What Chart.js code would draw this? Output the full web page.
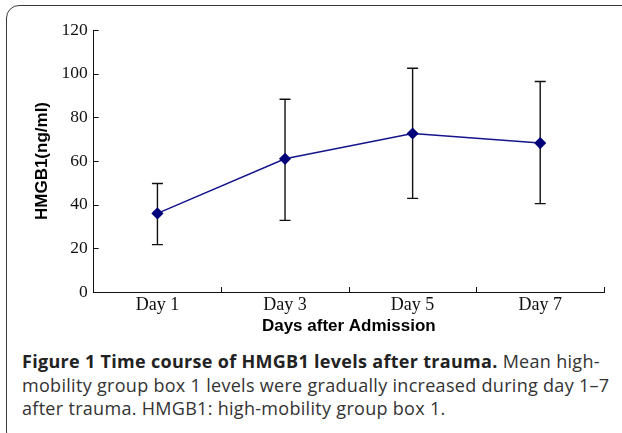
<!DOCTYPE html>
<html>
<head>
<meta charset="utf-8">
<script src="https://cdn.jsdelivr.net/npm/chart.js@4/dist/chart.umd.min.js"></script>
<style>
  html, body { margin: 0; padding: 0; background: #fff; }
  #wrap { position: relative; width: 622px; height: 433px; overflow: hidden; }
  #frame {
    position: absolute; left: 6px; top: 5px; width: 640px; height: 440px;
    border: 1.5px solid #3a3a3a; border-radius: 13px; box-sizing: border-box;
  }
  #chart3 { position: absolute; left: 0; top: 0; }
  #caption {
    position: absolute; left: 22px; top: 350px;
    font-family: "Open Sans", sans-serif; font-size: 18px; line-height: 23.5px;
    letter-spacing: 0.3px; color: #333; white-space: nowrap;
  }
  #caption b { color: #222; }
</style>
</head>
<body>
<div id="wrap">
  <div id="frame"></div>
  <canvas id="chart3" width="622" height="346"></canvas>
  <div id="caption">
    <div><b>Figure 1 Time course of HMGB1 levels after trauma.</b> Mean high-</div>
    <div>mobility group box 1 levels were gradually increased during day 1–7</div>
    <div>after trauma. HMGB1: high-mobility group box 1.</div>
  </div>
</div>
<script>
/* -------- donnees -------- */
const jours = ["Day 1", "Day 3", "Day 5", "Day 7"];
const moyennes = [36, 61, 72.6, 68.2];
const hautErreur = [49.7, 88.3, 102.5, 96.4];
const basErreur = [21.7, 32.8, 42.9, 40.5];
const ticksY = [0, 20, 40, 60, 80, 100, 120];

const ctx3 = chart3.getContext("2d");

/* barres d'erreur, dessinees avant la ligne */
const errorBars = {
  id: "errorBars",
  beforeDatasetsDraw(chart) {
    const c = chart.ctx;
    const x = chart.scales.x, y = chart.scales.y;
    c.save();
    c.strokeStyle = "#111";
    c.lineWidth = 1.4;
    for (let i = 0; i < moyennes.length; i++) {
      const px = x.getPixelForValue(i);
      const top = y.getPixelForValue(hautErreur[i]);
      const bot = y.getPixelForValue(basErreur[i]);
      c.beginPath();
      c.moveTo(px, top); c.lineTo(px, bot);
      c.moveTo(px - 5.5, top); c.lineTo(px + 5.5, top);
      c.moveTo(px - 5.5, bot); c.lineTo(px + 5.5, bot);
      c.stroke();
    }
    c.restore();
  }
};

/* petits traits vers l'interieur sur les axes */
const innerTicks = {
  id: "innerTicks",
  afterDraw(chart) {
    const c = chart.ctx;
    const x = chart.scales.x, y = chart.scales.y;
    const area = chart.chartArea;
    c.save();
    c.strokeStyle = "#111";
    c.lineWidth = 1;
    c.beginPath();
    ticksY.forEach(v => {
      const py = Math.round(y.getPixelForValue(v)) + 0.5;
      c.moveTo(area.left, py); c.lineTo(area.left + 5, py);
    });
    const pas = x.getPixelForValue(1) - x.getPixelForValue(0);
    for (let i = 0; i < jours.length; i++) {
      const px = Math.round(x.getPixelForValue(i) + pas / 2) + 0.5;
      c.moveTo(px, area.bottom); c.lineTo(px, area.bottom - 5);
    }
    c.stroke();
    c.restore();
  }
};

const data3 = {
  labels: jours,
  datasets: [{
    data: moyennes,
    borderColor: "#14148c",
    borderWidth: 1.5,
    backgroundColor: "#00007a",
    pointStyle: "rectRot",
    pointRadius: 5,
    pointBackgroundColor: "#00007a",
    pointBorderColor: "#00007a",
    tension: 0
  }]
};

const config3 = {
  type: "line",
  data: data3,
  plugins: [errorBars, innerTicks],
  options: {
    responsive: false,
    animation: false,
    layout: { padding: { left: 28, right: 18, top: 30, bottom: 0 } },
    scales: {
      x: {
        offset: true,
        grid: { drawOnChartArea: false, drawTicks: false },
        border: { color: "#111", width: 1 },
        ticks: {
          padding: 2,
          color: "#111",
          font: { family: "'Liberation Serif', 'Times New Roman', serif", size: 18 }
        },
        title: {
          display: true,
          text: "Days after Admission",
          color: "#000",
          padding: { top: -1, bottom: 9 },
          font: { family: "'Liberation Sans', Arial, sans-serif", size: 17, weight: "bold" }
        }
      },
      y: {
        min: 0,
        max: 120,
        grid: { drawOnChartArea: false, drawTicks: false },
        border: { color: "#111", width: 1 },
        afterBuildTicks: (s) => { s.ticks = ticksY.map(v => ({ value: v })); },
        ticks: {
          padding: 6,
          color: "#111",
          font: { family: "'Liberation Serif', 'Times New Roman', serif", size: 17.5 }
        },
        title: {
          display: true,
          text: "HMGB1(ng/ml)",
          color: "#000",
          padding: { top: 4, bottom: 3 },
          font: { family: "'Liberation Sans', Arial, sans-serif", size: 17, weight: "bold" }
        }
      }
    },
    plugins: {
      legend: { display: false },
      tooltip: { enabled: false }
    }
  }
};

const myChart3 = new Chart(ctx3, config3);
</script>
</body>
</html>
